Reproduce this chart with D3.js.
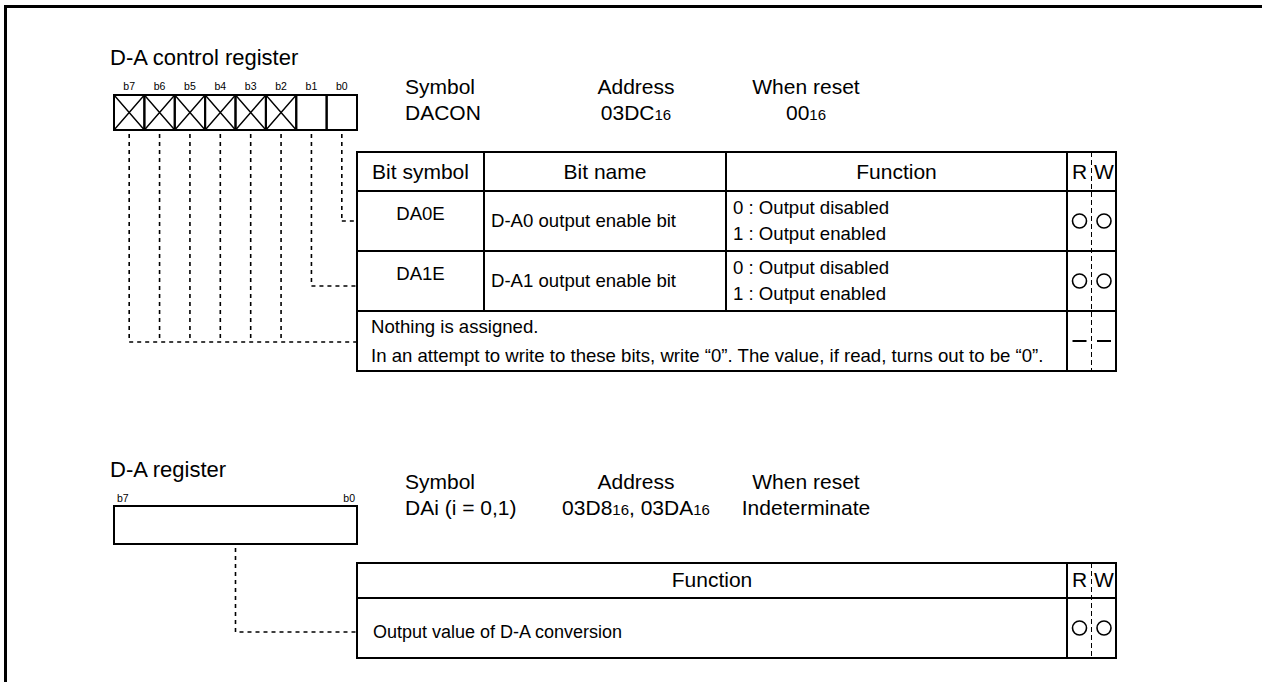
<!DOCTYPE html>
<html><head><meta charset="utf-8">
<script src="https://cdn.jsdelivr.net/npm/d3@7"></script>
<style>
html,body{margin:0;padding:0;background:#fff;}
svg{display:block;}
text{font-family:"Liberation Sans",Arial,Helvetica,sans-serif;fill:#000;}
</style>
</head><body>
<svg id="c" width="1262" height="682"></svg>
<script>
// ---------- data ----------
const bitLabels = ["b7","b6","b5","b4","b3","b2","b1","b0"];
const reservedBits = ["b7","b6","b5","b4","b3","b2"];
const infoHeads = ["Symbol","Address","When reset"];
const ctrlTitle = "D-A control register";
const ctrlInfoValues = ["DACON","03DC_16","00_16"];
const ctrlHeaders = ["Bit symbol","Bit name","Function","R","W"];
const ctrlBitSymbols = ["DA0E","DA1E"];
const ctrlBitNames = ["D-A0 output enable bit","D-A1 output enable bit"];
const ctrlFunctions = [["0 : Output disabled","1 : Output enabled"],["0 : Output disabled","1 : Output enabled"]];
const ctrlRowBits = [["b0"],["b1"],["b7","b6","b5","b4","b3","b2"]];
const ctrlRW = [["o","o"],["o","o"],["-","-"]];
const ctrlReservedNote = ["Nothing is assigned.","In an attempt to write to these bits, write “0”. The value, if read, turns out to be “0”."];
const daTitle = "D-A register";
const daBitEnds = ["b7","b0"];
const daInfoValues = ["DAi (i = 0,1)","03D8_16_, 03DA_16","Indeterminate"];
const daHeaders = ["Function","R","W"];
const daFunction = ["Output value of D-A conversion"];
const daRW = [["o","o"]];

// ---------- drawing ----------
const svg = d3.select("#c");
const ink = "#000";
const cellFont = 18.6;

// frame
svg.append("path").attr("d","M5.5,682V6.5H1262").attr("fill","none").attr("stroke",ink).attr("stroke-width",3);

const bx = d3.scaleBand().domain(bitLabels).range([114,357]);
const bw = bx.bandwidth();
const infoX = d3.scaleOrdinal().domain(infoHeads).range([405,636,806]);
const infoAnchor = d3.scaleOrdinal().domain(infoHeads).range(["start","middle","middle"]);

function subText(sel, str, size, subSize){
  str.split("_").forEach((s,i)=>{
    if(!s) return;
    sel.append("tspan").text(s).attr("font-size", i%2 ? subSize : size);
  });
}

function infoBlock(y, values){
  infoHeads.forEach((h,i)=>{
    svg.append("text").attr("x",infoX(h)).attr("y",y).attr("text-anchor",infoAnchor(h))
      .attr("font-size",21).text(h);
    const t = svg.append("text").attr("x",infoX(h)).attr("y",y+26).attr("text-anchor",infoAnchor(h))
      .attr("font-size",21);
    subText(t, values[i], 21, 15);
  });
}

// columns / rows (ctrl table)
const cCols = [357,484,726,1067,1116];
const rwMid = 1091.5;
const rwX = [1079.5,1104];
const cRows = [152,191,251,311,371];

// ===== Section 1 =====
svg.append("text").attr("x",110).attr("y",65).attr("font-size",22).text(ctrlTitle);
svg.selectAll(".bl").data(bitLabels).enter().append("text")
  .attr("x",d=>bx(d)+bw/2).attr("y",90).attr("text-anchor","middle").attr("font-size",10.5).text(d=>d);
const boxY0=95, boxY1=130;
svg.selectAll(".cell").data(bitLabels).enter().append("rect")
  .attr("x",d=>bx(d)).attr("y",boxY0).attr("width",bw).attr("height",boxY1-boxY0)
  .attr("fill","none").attr("stroke",ink).attr("stroke-width",2);
svg.selectAll(".x1").data(reservedBits).enter().append("path")
  .attr("d",d=>`M${bx(d)},${boxY0}L${bx(d)+bw},${boxY1}M${bx(d)+bw},${boxY0}L${bx(d)},${boxY1}`)
  .attr("stroke",ink).attr("stroke-width",1.4).attr("fill","none");

infoBlock(94, ctrlInfoValues);

// connectors
const linkY = [221,286,342];
ctrlRowBits.forEach((bits,r)=>{
  bits.forEach(b=>{
    svg.append("line").attr("x1",bx(b)+bw/2).attr("x2",bx(b)+bw/2).attr("y1",boxY1+4).attr("y2",linkY[r])
      .attr("stroke",ink).attr("stroke-width",1.6).attr("stroke-dasharray","4,4");
  });
  const xs = bits.map(b=>bx(b)+bw/2);
  svg.append("line").attr("x1",d3.min(xs)).attr("x2",cCols[0]).attr("y1",linkY[r]).attr("y2",linkY[r])
    .attr("stroke",ink).attr("stroke-width",1.6).attr("stroke-dasharray","4,4");
});

// table 1
function hline(x1,x2,y){svg.append("line").attr("x1",x1).attr("x2",x2).attr("y1",y).attr("y2",y).attr("stroke",ink).attr("stroke-width",2);}
function vline(x,y1,y2){svg.append("line").attr("x1",x).attr("x2",x).attr("y1",y1).attr("y2",y2).attr("stroke",ink).attr("stroke-width",2);}
svg.append("rect").attr("x",cCols[0]).attr("y",cRows[0]).attr("width",cCols[4]-cCols[0]).attr("height",cRows[4]-cRows[0])
  .attr("fill","none").attr("stroke",ink).attr("stroke-width",2);
cRows.slice(1,4).forEach(y=>hline(cCols[0],cCols[4],y));
vline(cCols[1],cRows[0],cRows[3]);
vline(cCols[2],cRows[0],cRows[3]);
vline(cCols[3],cRows[0],cRows[4]);
svg.append("line").attr("x1",rwMid).attr("x2",rwMid).attr("y1",cRows[0]).attr("y2",cRows[4])
  .attr("stroke",ink).attr("stroke-width",1).attr("stroke-dasharray","5,3");

// header
const hx = [(cCols[0]+cCols[1])/2,(cCols[1]+cCols[2])/2,(cCols[2]+cCols[3])/2,rwX[0],rwX[1]];
ctrlHeaders.forEach((h,i)=>{
  svg.append("text").attr("x",hx[i]).attr("y",179).attr("text-anchor","middle").attr("font-size",21).text(h);
});
// rows
ctrlBitSymbols.forEach((s,i)=>{
  const y0 = cRows[i+1];
  svg.append("text").attr("x",hx[0]).attr("y",y0+29).attr("text-anchor","middle").attr("font-size",cellFont).text(s);
  svg.append("text").attr("x",cCols[1]+7).attr("y",y0+36).attr("font-size",cellFont).text(ctrlBitNames[i]);
  ctrlFunctions[i].forEach((f,j)=>{
    svg.append("text").attr("x",cCols[2]+7).attr("y",y0+23+j*26).attr("font-size",cellFont).text(f);
  });
});
ctrlReservedNote.forEach((t,j)=>{
  svg.append("text").attr("x",371).attr("y",cRows[3]+22+j*29).attr("font-size",cellFont).text(t);
});

function rwMarks(rows, rowEdges){
  rows.forEach((pair,r)=>{
    const cy = (rowEdges[r]+rowEdges[r+1])/2;
    pair.forEach((m,k)=>{
      if(m==="o"){
        svg.append("circle").attr("cx",rwX[k]).attr("cy",cy).attr("r",7).attr("fill","none")
          .attr("stroke",ink).attr("stroke-width",1.6);
      } else {
        svg.append("line").attr("x1",rwX[k]-7).attr("x2",rwX[k]+7).attr("y1",cy).attr("y2",cy)
          .attr("stroke",ink).attr("stroke-width",2);
      }
    });
  });
}
rwMarks(ctrlRW, cRows.slice(1));

// ===== Section 2 =====
svg.append("text").attr("x",110).attr("y",477).attr("font-size",22).text(daTitle);
daBitEnds.forEach((b,i)=>{
  svg.append("text").attr("x", i===0 ? bx(b)+3 : bx(b)+bw-2).attr("y",502)
    .attr("text-anchor", i===0 ? "start":"end").attr("font-size",10.5).text(b);
});
const dY0=506, dY1=544;
svg.append("rect").attr("x",bx("b7")).attr("y",dY0).attr("width",bx("b0")+bw-bx("b7")).attr("height",dY1-dY0)
  .attr("fill","none").attr("stroke",ink).attr("stroke-width",2);
infoBlock(489, daInfoValues);

const dCols=[357,1067,1116];
const dRows=[563,598,658];
const midX = (bx("b7")+bx("b0")+bw)/2;
svg.append("path").attr("d",`M${midX},${dY1+4}V632H${dCols[0]}`).attr("fill","none")
  .attr("stroke",ink).attr("stroke-width",1.6).attr("stroke-dasharray","4,4");
svg.append("rect").attr("x",dCols[0]).attr("y",dRows[0]).attr("width",dCols[2]-dCols[0]).attr("height",dRows[2]-dRows[0])
  .attr("fill","none").attr("stroke",ink).attr("stroke-width",2);
hline(dCols[0],dCols[2],dRows[1]);
vline(dCols[1],dRows[0],dRows[2]);
svg.append("line").attr("x1",rwMid).attr("x2",rwMid).attr("y1",dRows[0]).attr("y2",dRows[2])
  .attr("stroke",ink).attr("stroke-width",1).attr("stroke-dasharray","5,3");
const dhx=[(dCols[0]+dCols[1])/2, rwX[0], rwX[1]];
daHeaders.forEach((h,i)=>{
  svg.append("text").attr("x",dhx[i]).attr("y",587).attr("text-anchor","middle").attr("font-size",21).text(h);
});
svg.append("text").attr("x",373).attr("y",638).attr("font-size",18).text(daFunction[0]);
rwMarks(daRW, dRows.slice(1));
</script>
</body></html>
